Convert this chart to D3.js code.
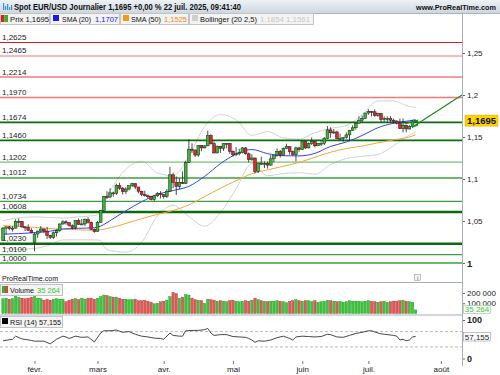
<!DOCTYPE html>
<html><head><meta charset="utf-8">
<script src="https://cdn.jsdelivr.net/npm/d3@7"></script>
<style>
body{margin:0;background:#fff;}
svg{display:block;font-family:"Liberation Sans",Arial,sans-serif;}
</style></head><body>
<svg id="c" width="500" height="375"></svg>
<script>
// ---------- DATA ----------
const opens = [
1.0270,1.0415,1.0430,1.0410,1.0415,1.0495,1.0495,1.0430,1.0420,1.0390,
1.0245,1.0345,1.0380,1.0405,1.0380,1.0330,1.0305,1.0360,1.0385,1.0465,
1.0490,1.0480,1.0445,1.0420,1.0505,1.0460,1.0465,1.0515,1.0485,1.0400,
1.0375,1.0485,1.0625,1.0790,1.0785,1.0835,1.0830,1.0920,1.0890,1.0850,
1.0880,1.0920,1.0945,1.0905,1.0855,1.0815,1.0800,1.0795,1.0755,1.0800,
1.0830,1.0815,1.0790,1.0855,1.1050,1.0960,1.0910,1.0960,1.0945,1.1195,
1.1355,1.1345,1.1285,1.1400,1.1370,1.1395,1.1515,1.1420,1.1310,1.1390,
1.1365,1.1420,1.1425,1.1330,1.1290,1.1300,1.1315,1.1370,1.1300,1.1230,
1.1250,1.1090,1.1190,1.1175,1.1185,1.1165,1.1240,1.1285,1.1330,1.1285,
1.1365,1.1385,1.1325,1.1290,1.1370,1.1350,1.1445,1.1370,1.1420,1.1445,
1.1395,1.1420,1.1425,1.1485,1.1585,1.1550,1.1560,1.1480,1.1480,1.1495,
1.1525,1.1580,1.1610,1.1665,1.1700,1.1720,1.1785,1.1805,1.1800,1.1755,
1.1780,1.1710,1.1720,1.1720,1.1700,1.1690,1.1665,1.1600,1.1640,1.1595,
1.1625,1.1690];
const highs = [
1.0430,1.0435,1.0440,1.0440,1.0520,1.0530,1.0500,1.0435,1.0460,1.0415,
1.0365,1.0385,1.0440,1.0410,1.0430,1.0335,1.0375,1.0400,1.0470,1.0510,
1.0510,1.0485,1.0460,1.0505,1.0530,1.0525,1.0530,1.0545,1.0495,1.0410,
1.0500,1.0630,1.0800,1.0855,1.0890,1.0850,1.0945,1.0955,1.0905,1.0905,
1.0925,1.0955,1.0950,1.0905,1.0860,1.0860,1.0815,1.0800,1.0810,1.0845,
1.0855,1.0815,1.0880,1.1145,1.1075,1.1030,1.1010,1.1090,1.1215,1.1475,
1.1425,1.1350,1.1405,1.1405,1.1400,1.1575,1.1535,1.1445,1.1400,1.1395,
1.1425,1.1425,1.1425,1.1340,1.1380,1.1360,1.1380,1.1380,1.1315,1.1295,
1.1255,1.1195,1.1265,1.1210,1.1210,1.1285,1.1285,1.1365,1.1345,1.1375,
1.1420,1.1390,1.1340,1.1385,1.1385,1.1455,1.1455,1.1435,1.1495,1.1455,
1.1430,1.1450,1.1500,1.1630,1.1615,1.1595,1.1575,1.1540,1.1500,1.1555,
1.1585,1.1640,1.1665,1.1745,1.1755,1.1790,1.1830,1.1810,1.1830,1.1790,
1.1785,1.1745,1.1745,1.1750,1.1720,1.1700,1.1720,1.1720,1.1645,1.1645,
1.1700,1.1700];
const lows = [
1.0265,1.0340,1.0390,1.0375,1.0410,1.0435,1.0420,1.0380,1.0380,1.0355,
1.0140,1.0300,1.0360,1.0355,1.0285,1.0285,1.0285,1.0315,1.0370,1.0455,
1.0455,1.0435,1.0400,1.0400,1.0455,1.0450,1.0440,1.0470,1.0395,1.0360,
1.0375,1.0480,1.0615,1.0760,1.0775,1.0790,1.0810,1.0870,1.0815,1.0820,
1.0865,1.0905,1.0880,1.0830,1.0795,1.0790,1.0770,1.0745,1.0735,1.0785,
1.0770,1.0765,1.0775,1.0850,1.0890,1.0810,1.0880,1.0940,1.0940,1.1195,
1.1310,1.1260,1.1265,1.1330,1.1365,1.1390,1.1410,1.1305,1.1305,1.1310,
1.1335,1.1365,1.1300,1.1265,1.1270,1.1280,1.1305,1.1290,1.1200,1.1215,
1.1065,1.1070,1.1165,1.1130,1.1125,1.1160,1.1200,1.1265,1.1255,1.1280,
1.1355,1.1290,1.1280,1.1210,1.1325,1.1345,1.1355,1.1365,1.1405,1.1375,
1.1395,1.1390,1.1405,1.1475,1.1490,1.1535,1.1475,1.1465,1.1445,1.1480,
1.1450,1.1575,1.1590,1.1660,1.1680,1.1715,1.1765,1.1745,1.1740,1.1740,
1.1680,1.1680,1.1680,1.1680,1.1660,1.1650,1.1595,1.1555,1.1555,1.1590,
1.1610,1.1685];
const closes = [
1.0415,1.0430,1.0410,1.0415,1.0495,1.0495,1.0430,1.0420,1.0390,1.0360,
1.0345,1.0380,1.0405,1.0380,1.0330,1.0305,1.0360,1.0385,1.0465,1.0490,
1.0480,1.0445,1.0420,1.0505,1.0460,1.0465,1.0515,1.0485,1.0400,1.0375,
1.0485,1.0625,1.0790,1.0785,1.0835,1.0830,1.0920,1.0890,1.0850,1.0880,
1.0920,1.0945,1.0905,1.0855,1.0815,1.0800,1.0795,1.0755,1.0800,1.0830,
1.0815,1.0790,1.0855,1.1050,1.0960,1.0910,1.0960,1.0945,1.1195,1.1355,
1.1345,1.1285,1.1400,1.1370,1.1395,1.1515,1.1420,1.1310,1.1390,1.1365,
1.1420,1.1425,1.1330,1.1290,1.1300,1.1315,1.1370,1.1300,1.1230,1.1250,
1.1090,1.1190,1.1175,1.1185,1.1165,1.1240,1.1285,1.1330,1.1285,1.1365,
1.1385,1.1325,1.1290,1.1370,1.1350,1.1445,1.1370,1.1420,1.1445,1.1395,
1.1420,1.1425,1.1485,1.1585,1.1550,1.1560,1.1480,1.1480,1.1495,1.1525,
1.1580,1.1610,1.1665,1.1700,1.1720,1.1785,1.1805,1.1800,1.1755,1.1780,
1.1710,1.1720,1.1720,1.1700,1.1690,1.1665,1.1600,1.1640,1.1595,1.1625,
1.1690,1.1695];
const volumes = [
145000,150000,140000,145000,170000,155000,150000,145000,150000,160000,
185000,150000,145000,130000,140000,130000,140000,145000,140000,140000,
115000,130000,140000,145000,135000,150000,140000,150000,150000,140000,
150000,165000,180000,175000,165000,160000,160000,150000,140000,140000,
135000,135000,140000,125000,125000,130000,120000,110000,95000,100000,
115000,120000,130000,165000,205000,195000,150000,160000,185000,180000,
150000,135000,130000,125000,100000,140000,135000,130000,120000,125000,
120000,115000,125000,130000,120000,115000,120000,125000,120000,130000,
150000,135000,125000,120000,115000,120000,120000,125000,120000,115000,
105000,120000,125000,135000,125000,120000,125000,125000,115000,125000,
110000,115000,120000,130000,125000,120000,115000,120000,110000,115000,
125000,120000,120000,120000,115000,120000,125000,120000,115000,110000,
115000,120000,110000,115000,120000,120000,125000,130000,120000,115000,
110000,35264];
// indicator lines read at sample days: [day index, value]
const sma20 = [[0,1.0343],[5,1.0350],[10,1.0361],[15,1.0379],[19,1.0405],[24,1.0413],[29,1.0420],[31,1.0439],[32,1.0458],[34,1.0504],[39,1.0622],[44,1.0729],[49,1.0816],[54,1.0863],[59,1.0913],[64,1.1031],[69,1.1182],[74,1.1296],[79,1.1351],[84,1.1302],[89,1.1277],[94,1.1275],[99,1.1305],[104,1.1388],[109,1.1440],[114,1.1518],[119,1.1610],[124,1.1664],[129,1.1693],[131,1.1707]];
const sma50 = [[0,1.0445],[5,1.0435],[10,1.0425],[15,1.0410],[19,1.0402],[24,1.0395],[29,1.0389],[34,1.0419],[39,1.0471],[44,1.0528],[49,1.0579],[54,1.0625],[59,1.0691],[64,1.0790],[69,1.0890],[74,1.0979],[79,1.1063],[84,1.1109],[89,1.1152],[94,1.1197],[99,1.1259],[104,1.1319],[109,1.1363],[114,1.1392],[119,1.1431],[124,1.1466],[129,1.1500],[131,1.1525]];
const bollUp = [[0,1.0505],[5,1.0538],[10,1.0549],[15,1.0541],[19,1.0535],[24,1.0550],[29,1.0565],[31,1.0610],[32,1.0720],[34,1.0859],[39,1.1115],[44,1.1212],[49,1.1073],[54,1.1038],[59,1.1272],[64,1.1624],[69,1.1767],[74,1.1706],[79,1.1519],[84,1.1564],[89,1.1490],[94,1.1475],[99,1.1553],[104,1.1603],[109,1.1636],[114,1.1766],[119,1.1929],[124,1.1930],[129,1.1863],[131,1.1854]];
const bollLo = [[0,1.0180],[5,1.0163],[10,1.0173],[15,1.0217],[19,1.0275],[24,1.0276],[29,1.0275],[31,1.0270],[32,1.0195],[34,1.0149],[39,1.0129],[44,1.0246],[49,1.0559],[54,1.0688],[59,1.0554],[64,1.0438],[69,1.0597],[74,1.0886],[79,1.1183],[84,1.1040],[89,1.1064],[94,1.1075],[99,1.1057],[104,1.1173],[109,1.1244],[114,1.1270],[119,1.1291],[124,1.1398],[129,1.1523],[131,1.1561]];
const rsi = [[0,46],[3,50],[4,58],[6,51],[9,47],[10,45],[13,45],[15,38],[17,50],[19,58],[20,56],[21,52],[23,58],[25,55],[27,56],[29,43],[31,66],[32,72],[34,72],[36,74],[38,68],[40,70],[42,63],[44,58],[46,56],[48,53],[50,52],[51,50],[53,66],[54,60],[56,58],[57,58],[58,72],[60,73],[62,73],[64,75],[65,78],[66,66],[67,60],[69,62],[71,62],[73,57],[75,56],[77,55],[78,52],[79,48],[80,42],[81,46],[83,45],[85,48],[87,54],[89,58],[91,52],[92,48],[93,56],[95,58],[97,57],[99,56],[101,57],[103,63],[104,62],[106,56],[108,55],[110,60],[112,65],[114,68],[116,72],[117,72],[118,69],[120,64],[122,62],[124,60],[125,58],[126,48],[127,50],[128,46],[129,48],[130,56],[131,57.155]];
const levelValues = [1.2625,1.2465,1.2214,1.1970,1.1674,1.1460,1.1202,1.1012,1.0734,1.0608,1.0230,1.0100,1.0000];
const levelKinds  = ["r1","r2","r3","r3","g1","g1","g3","g2","g2","g0","g0","g2","g2"];
const trendLine = [[130,1.1619],[145.7,1.2000]];
const trendMark = [[127.5,1.1655],[131.6,1.1700],[131.6,1.1640],[130,1.1619]];
const priceTicks = [1,1.05,1.1,1.15,1.2,1.25];
const volTicks = [100000,200000];
const rsiTicks = [0,100];
const monthDays = [10,30,51,73,95,116,139];
const monthLabels = ["févr.","mars","avr.","mai","juin","juil.","août"];
const lastPrice = 1.1695, lastVolume = 35264, lastRsi = 57.155;

// ---------- SCALES ----------
const svg = d3.select("#c");
const x = d3.scaleLinear().domain([0,139]).range([3,440.85]);
const y = d3.scaleLinear().domain([1.0,1.25]).range([263,53]);
const yv = d3.scaleLinear().domain([0,200000]).range([313.5,293]);
const yr = d3.scaleLinear().domain([0,100]).range([358.5,320]);
const comma = d => String(d).replace(".",",");
const sp = d3.formatLocale({decimal:",",thousands:" ",grouping:[3],currency:["",""]}).format(",d");
const AX = 462;
const GREEN="#35b835", RED="#e0262c";

// ---------- HEADER ----------
const grad = svg.append("defs").append("linearGradient").attr("id","hdr").attr("x1",0).attr("y1",0).attr("x2",0).attr("y2",1);
grad.append("stop").attr("offset","0%").attr("stop-color","#eef2f6");
grad.append("stop").attr("offset","100%").attr("stop-color","#cdd6df");
svg.append("rect").attr("x",0).attr("y",0).attr("width",500).attr("height",13).attr("fill","url(#hdr)");
svg.append("line").attr("x1",0).attr("x2",500).attr("y1",13.5).attr("y2",13.5).attr("stroke","#a9b4bf");
[[3,7],[5,4],[7,6],[9,3],[11,5]].forEach(([ix,h])=>svg.append("rect").attr("x",ix).attr("y",11-h-1).attr("width",1.2).attr("height",h).attr("fill","#3d8fd8"));
svg.append("text").attr("x",14).attr("y",10).attr("font-size",8.5).attr("font-weight","bold").attr("fill","#111")
  .attr("textLength",227).attr("lengthAdjust","spacingAndGlyphs")
  .text("Spot EUR/USD Journalier "+comma(lastPrice)+" +0,00 % 22 juil. 2025, 09:41:40");
svg.append("text").attr("x",416).attr("y",10).attr("font-size",7.6).attr("font-weight","bold").attr("fill","#111")
  .attr("textLength",80).attr("lengthAdjust","spacingAndGlyphs").text("www.ProRealTime.com");

// legend boxes
function box(x0,w,y0,h){svg.append("rect").attr("x",x0+0.5).attr("y",y0+0.5).attr("width",w).attr("height",h).attr("fill","#f3f3f3").attr("stroke","#c4c4c4");}
function txt(x0,y0,s,col,len,bold){const t=svg.append("text").attr("x",x0).attr("y",y0).attr("font-size",8).attr("fill",col).text(s);if(len)t.attr("textLength",len).attr("lengthAdjust","spacingAndGlyphs");if(bold)t.attr("font-weight","bold");return t;}
box(0,49,13,11); box(50,69,13,11); box(120,68,13,11); box(189,124,13,11);
svg.append("rect").attr("x",1).attr("y",15).attr("width",3.5).attr("height",7).attr("fill","#e02020");
svg.append("rect").attr("x",4.5).attr("y",15).attr("width",3.5).attr("height",7).attr("fill","#2ab52a");
txt(10,21.5,"Prix "+comma(lastPrice),"#111",39);
svg.append("rect").attr("x",53).attr("y",15).attr("width",6).attr("height",6).attr("fill","#1a1aee");
txt(62,21.5,"SMA (20)","#111",29); txt(95,21.5,comma(sma20[sma20.length-1][1]),"#2222ee",23);
svg.append("rect").attr("x",123).attr("y",15).attr("width",6).attr("height",6).attr("fill","#f7961e");
txt(131,21.5,"SMA (50)","#111",30); txt(164,21.5,comma(sma50[sma50.length-1][1]),"#f08a10",23);
svg.append("rect").attr("x",192).attr("y",15).attr("width",6).attr("height",6).attr("fill","#cfcfcf");
txt(200,21.5,"Bollinger (20 2,5)","#111",57);
txt(260,21.5,comma(bollUp[bollUp.length-1][1])+" "+comma(bollLo[bollLo.length-1][1]),"#c8c8c8",50);

// ---------- MAIN PANEL ----------
const main = svg.append("g");
const line = d3.line().x(d=>x(d[0])).y(d=>y(d[1]));
[bollUp,bollLo].forEach(a=>main.append("path").datum(a).attr("d",line.curve(d3.curveMonotoneX)).attr("fill","none").attr("stroke","#d2d2d2").attr("stroke-width",1));
const kindStyle = {r1:["#e8161b",1.2],r2:["#f4a5a5",1.6],r3:["#f07a7a",1.3],g0:["#0b6a0b",2.4],g1:["#0b6e0b",1.6],g2:["#3f9f3f",1.3],g3:["#72c472",1.3]};
levelValues.forEach((v,k)=>{
  const [c,w]=kindStyle[levelKinds[k]];
  main.append("line").attr("x1",0).attr("x2",AX).attr("y1",y(v)).attr("y2",y(v)).attr("stroke",c).attr("stroke-width",w);
  main.append("text").attr("x",2).attr("y",y(v)-2.5).attr("font-size",8).attr("fill","#1a1a1a").text(d3.format(".4f")(v).replace(".",","));
});
main.append("path").datum(sma50).attr("d",line.curve(d3.curveMonotoneX)).attr("fill","none").attr("stroke","#f7a43a").attr("stroke-width",1);
main.append("path").datum(sma20).attr("d",line.curve(d3.curveMonotoneX)).attr("fill","none").attr("stroke","#3344ee").attr("stroke-width",1);
const idx = d3.range(closes.length);
const cg = main.append("g");
cg.selectAll("line.w").data(idx).join("line").attr("x1",i=>x(i)).attr("x2",i=>x(i))
  .attr("y1",i=>y(highs[i])).attr("y2",i=>y(lows[i])).attr("stroke","#222").attr("stroke-width",0.8);
cg.selectAll("rect.b").data(idx).join("rect")
  .attr("x",i=>x(i)-1.4).attr("width",2.8)
  .attr("y",i=>y(Math.max(opens[i],closes[i])))
  .attr("height",i=>Math.max(1,Math.abs(y(opens[i])-y(closes[i]))))
  .attr("fill",i=>closes[i]>=opens[i]?GREEN:RED).attr("stroke","#1e1e1e").attr("stroke-width",0.5);
main.append("path").datum(trendLine).attr("d",line.curve(d3.curveLinear)).attr("fill","none").attr("stroke","#1e8f1e").attr("stroke-width",1.3);
main.append("path").datum(trendMark).attr("d",line.curve(d3.curveLinear)).attr("fill","none").attr("stroke","#1e8f1e").attr("stroke-width",1.1);

const pa = svg.append("g").attr("transform",`translate(${AX},0)`)
  .call(d3.axisRight(y).tickValues(priceTicks).tickSize(3).tickPadding(2).tickFormat(comma));
pa.select(".domain").remove();
pa.selectAll("line").attr("stroke","#666");
pa.selectAll("text").attr("fill","#222").attr("font-family","Liberation Sans, Arial")
  .attr("font-weight",d=>d===1?"bold":"normal").attr("font-size",d=>d===1?9.5:8);
svg.append("rect").attr("x",465).attr("y",y(lastPrice)-5.5).attr("width",33).attr("height",11).attr("fill","#ffd200").attr("stroke","#d4a900").attr("stroke-width",0.5);
svg.append("text").attr("x",481.5).attr("y",y(lastPrice)+3.5).attr("text-anchor","middle").attr("font-size",9.5).attr("font-weight","bold").attr("fill","#111").text(comma(lastPrice));

// ---------- VOLUME PANEL ----------
svg.append("text").attr("x",2).attr("y",281).attr("font-size",8).attr("fill","#111").attr("textLength",56).attr("lengthAdjust","spacingAndGlyphs").text("ProRealTime.com");
svg.append("rect").attr("x",414.5).attr("y",274.5).attr("width",6).attr("height",6).attr("fill","#f4f4f4").attr("stroke","#999").attr("stroke-width",0.6);
svg.append("text").attr("x",417.5).attr("y",279.6).attr("text-anchor","middle").attr("font-size",5.5).attr("fill","#555").text("i");
[282.5,315].forEach(v=>svg.append("line").attr("x1",0).attr("x2",AX).attr("y1",v).attr("y2",v).attr("stroke","#a6afb8").attr("stroke-width",1));
const vg = svg.append("g");
vg.selectAll("rect").data(idx).join("rect")
  .attr("x",i=>x(i)-1.2).attr("width",2.4)
  .attr("y",i=>yv(volumes[i])).attr("height",i=>yv(0)-yv(volumes[i]))
  .attr("fill",i=>closes[i]>=opens[i]?"#3cc43c":"#e05a5a")
  .attr("stroke",i=>closes[i]>=opens[i]?"#249a24":"#b83434").attr("stroke-width",0.4);
box(0,62,284,11);
svg.append("rect").attr("x",2).attr("y",286).attr("width",3).attr("height",7).attr("fill","#2ab52a");
svg.append("rect").attr("x",5).attr("y",286).attr("width",3).attr("height",7).attr("fill","#e04040");
txt(10,293,"Volume","#111",24); txt(37,293,sp(lastVolume),"#3cc43c",23);
const va = svg.append("g").attr("transform",`translate(${AX},0)`)
  .call(d3.axisRight(yv).tickValues(volTicks).tickSize(3).tickPadding(2).tickFormat(sp));
va.select(".domain").remove();
va.selectAll("line").attr("stroke","#666");
va.selectAll("text").attr("font-size",8).attr("fill","#222").attr("font-family","Liberation Sans, Arial");
svg.append("rect").attr("x",463.5).attr("y",305.5).attr("width",27).attr("height",8).attr("fill","#fff").attr("stroke","#9ad29a").attr("stroke-width",0.7);
svg.append("text").attr("x",477).attr("y",312.3).attr("text-anchor","middle").attr("font-size",8).attr("fill","#3cc43c").text(sp(lastVolume));

// ---------- RSI PANEL ----------
[70,30].forEach(v=>svg.append("line").attr("x1",0).attr("x2",AX).attr("y1",yr(v)).attr("y2",yr(v)).attr("stroke","#aaa").attr("stroke-width",0.8).attr("stroke-dasharray","3,2"));
svg.append("path").datum(rsi).attr("d",d3.line().x(d=>x(d[0])).y(d=>yr(d[1]))).attr("fill","none").attr("stroke","#333").attr("stroke-width",0.9);
box(0,62,316,11);
svg.append("rect").attr("x",2).attr("y",318).attr("width",6).attr("height",6).attr("fill","#000");
txt(10,325,"RSI (14) "+comma(lastRsi),"#111",51);
const ra = svg.append("g").attr("transform",`translate(${AX},0)`)
  .call(d3.axisRight(yr).tickValues(rsiTicks).tickSize(3).tickPadding(2).tickFormat(d3.format("d")));
ra.select(".domain").remove();
ra.selectAll("line").attr("stroke","#666");
ra.selectAll("text").attr("font-size",9).attr("font-weight","bold").attr("fill","#222").attr("font-family","Liberation Sans, Arial");
svg.append("rect").attr("x",463.5).attr("y",332.5).attr("width",27).attr("height",8.5).attr("fill","#fff").attr("stroke","#999").attr("stroke-width",0.6);
svg.append("text").attr("x",477).attr("y",339.6).attr("text-anchor","middle").attr("font-size",8).attr("fill","#222").text(comma(lastRsi));

// ---------- X AXIS ----------
const xa = svg.append("g").attr("transform","translate(0,361)")
  .call(d3.axisBottom(x).tickValues(monthDays).tickSize(3).tickPadding(2).tickFormat((d,k)=>monthLabels[k]));
xa.select(".domain").remove();
xa.selectAll("line").attr("stroke","#777");
xa.selectAll("text").attr("font-size",8).attr("fill","#222").attr("font-family","Liberation Sans, Arial");

svg.append("line").attr("x1",AX+0.5).attr("x2",AX+0.5).attr("y1",13).attr("y2",366).attr("stroke","#a6afb8").attr("stroke-width",1);
</script>
</body></html>
